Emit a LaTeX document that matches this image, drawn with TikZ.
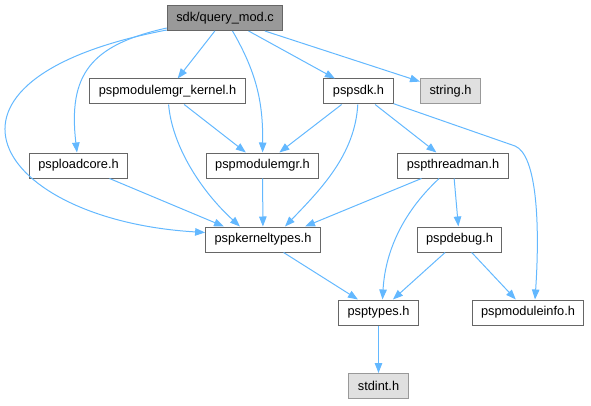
\documentclass[tikz,border=0pt]{standalone}
\usepackage{fontspec}
\setmainfont{Liberation Sans}
\usetikzlibrary{arrows.meta}
\definecolor{edge}{HTML}{63B8FF}
\definecolor{frame}{HTML}{666666}
\definecolor{rootfill}{HTML}{999999}
\definecolor{sysfill}{HTML}{E0E0E0}
\definecolor{sysframe}{HTML}{999999}

\begin{document}
\begin{tikzpicture}[x=1pt, y=1pt,
    file/.style={draw=frame, line width=1pt, minimum height=25pt, inner xsep=9pt,
      font=\fontsize{12.8}{15}\selectfont},
    rootfile/.style={file, fill=rootfill},
    sysfile/.style={file, draw=sysframe, fill=sysfill},
    dep/.style={draw=edge, line width=1pt, -{Triangle[length=10pt, width=7.5pt]}}]
  \useasboundingbox (0, 0) rectangle (591, 405);

  % Files
  \node[rootfile] (query)    at (225, 387)   {sdk/query\_mod.c};
  \node[file]     (kernel)   at (167.5, 313.5) {pspmodulemgr\_kernel.h};
  \node[file]     (sdk)      at (358.5, 313.5) {pspsdk.h};
  \node[sysfile]  (string)   at (450.5, 313.5) {string.h};
  \node[file]     (loadcore) at (78.5, 239.5)  {psploadcore.h};
  \node[file]     (modmgr)   at (262.5, 239.5) {pspmodulemgr.h};
  \node[file]     (thread)   at (453, 239.5)   {pspthreadman.h};
  \node[file]     (ktypes)   at (263, 165.5)   {pspkerneltypes.h};
  \node[file]     (debug)    at (459.5, 165.5) {pspdebug.h};
  \node[file]     (types)    at (378.5, 92.5)  {psptypes.h};
  \node[file]     (modinfo)  at (528, 92.5)    {pspmoduleinfo.h};
  \node[sysfile]  (stdint)   at (378.5, 19)    {stdint.h};

  % Includes of sdk/query_mod.c
  \draw[dep] (query) -- (kernel);
  \draw[dep] (query) -- (sdk);
  \draw[dep] (query) -- (string);
  \draw[dep] (query) .. controls (258, 330) and (263, 300) .. (modmgr);
  \draw[dep] ([yshift=3pt]query.south west) .. controls (90, 360) and (68, 330) .. (loadcore);
  \draw[dep] ([yshift=1pt]query.south west) .. controls (-95, 325) and (-5, 185)
    .. ([yshift=-6pt]ktypes.north west);

  % Second level
  \draw[dep] (kernel) -- (modmgr);
  \draw[dep] (kernel) .. controls (172, 260) and (200, 215) .. ([xshift=-23pt]ktypes.north);
  \draw[dep] (loadcore) -- ([xshift=-39pt]ktypes.north);
  \draw[dep] (modmgr) -- (ktypes);
  \draw[dep] (sdk) -- (modmgr);
  \draw[dep] (sdk) .. controls (355, 250) and (320, 215) .. ([xshift=22pt]ktypes.north);
  \draw[dep] (sdk) -- (thread);
  \draw[dep] (sdk) -- (515, 259) .. controls (537, 250) and (540, 180) .. ([xshift=7pt]modinfo.north);

  % Third level
  \draw[dep] (thread) -- ([xshift=42pt]ktypes.north);
  \draw[dep] (thread) .. controls (400, 190) and (385, 150) .. ([xshift=4pt]types.north);
  \draw[dep] (thread) -- (debug);
  \draw[dep] (ktypes) -- (types);
  \draw[dep] (debug) -- (types);
  \draw[dep] (debug) -- (modinfo);
  \draw[dep] (types) -- (stdint);
\end{tikzpicture}
\end{document}
